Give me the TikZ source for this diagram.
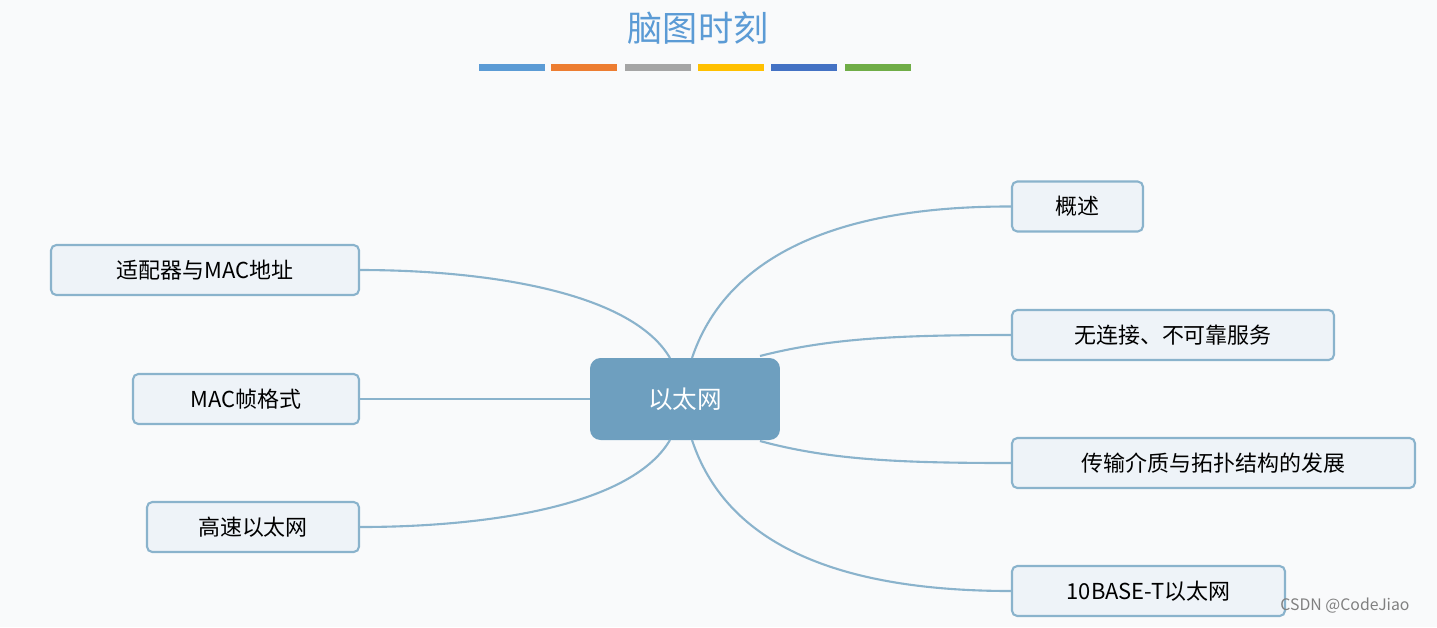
\documentclass[tikz,border=0pt]{standalone}
\usepackage{fontspec}
\setmainfont{Noto Sans CJK SC}
\usetikzlibrary{positioning}
\definecolor{bgcol}{HTML}{F9FAFB}
\definecolor{linecol}{HTML}{8AB3CC}
\definecolor{boxfill}{HTML}{EEF3F8}
\definecolor{rootfill}{HTML}{6E9FBF}
\definecolor{titlecol}{HTML}{5B9BD5}
\tikzset{
  branch/.style={draw=linecol, fill=boxfill, line width=1.2pt, rounded corners=3pt,
    font=\fontsize{12.5}{14}\selectfont, inner sep=0pt, minimum height=1cm},
  link/.style={draw=linecol, line width=1.2pt}
}
\begin{document}
\begin{tikzpicture}[x=0.02cm, y=-0.02cm]
		\fill[bgcol] (0,0) rectangle (1437,627);
		\useasboundingbox (0,0) rectangle (1437,627);
		\node[text=titlecol, font=\fontsize{20}{22}\selectfont] (title) at (698,28) {脑图时刻};
		\foreach \x/\c in {479/5B9BD5, 551/ED7D31, 625/A5A5A5, 698/FFC000, 771/4472C4, 845/70AD47}{
		  \definecolor{barcol}{HTML}{\c}
		  \fill[barcol] (\x,64) rectangle +(66,7);
		}
		% root
		\node[fill=rootfill, rounded corners=6pt, minimum width=3.8cm, minimum height=1.64cm,
		  text=white, font=\fontsize{14}{16}\selectfont] (root) at (685,399) {以太网};
		% right side
		\node[branch, minimum width=2.62cm] (gaishu) at (1077.5,206.5) {概述};
		\node[branch, minimum width=6.44cm] (fuwu) at (1173,335) {无连接、不可靠服务};
		\node[branch, minimum width=8.06cm] (jiezhi) at (1213.5,463) {传输介质与拓扑结构的发展};
		\node[branch, minimum width=5.46cm] (tbase) at (1148.5,591) {10BASE-T以太网};
		% left side
		\node[branch, minimum width=6.16cm] (shipei) at (205,270) {适配器与MAC地址};
		\node[branch, minimum width=4.52cm] (zhen) at (246,399) {MAC帧格式};
		\node[branch, minimum width=4.24cm] (gaosu) at (253,527) {高速以太网};
		% connectors
		\draw[link] (692,358) .. controls (725,260) and (830,206) .. (gaishu.west);
		\draw[link] (760,356) .. controls (830,338) and (900,335) .. (fuwu.west);
		\draw[link] (760,441) .. controls (830,460) and (900,463) .. (jiezhi.west);
		\draw[link] (692,440) .. controls (725,540) and (830,591) .. (tbase.west);
		\draw[link] (670,358) .. controls (630,290) and (480,270) .. (shipei.east);
		\draw[link] (root.west) -- (zhen.east);
		\draw[link] (670,440) .. controls (630,508) and (480,527) .. (gaosu.east);
		\node[text=gray, font=\fontsize{9}{10}\selectfont] (mark) at (1345,606) {CSDN @CodeJiao};
\end{tikzpicture}
\end{document}
